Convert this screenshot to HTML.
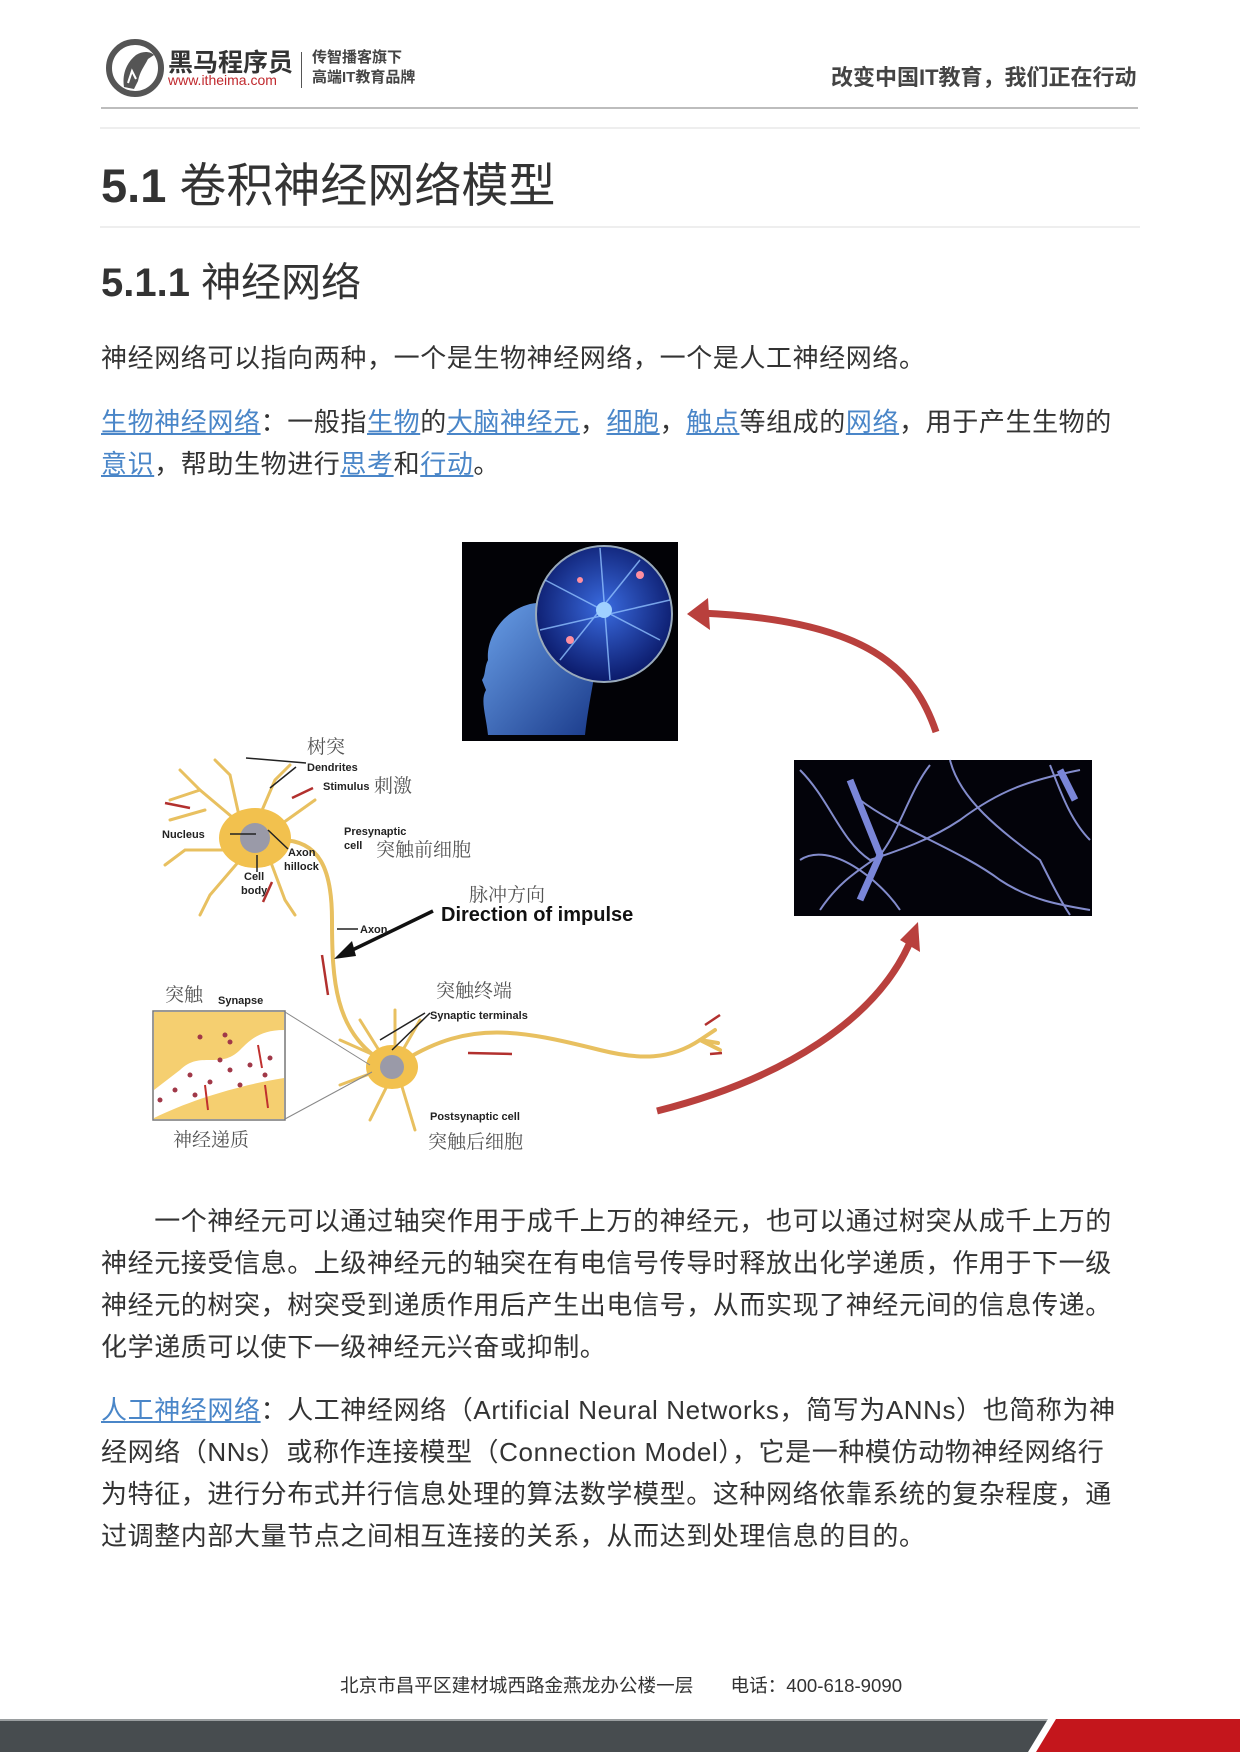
<!DOCTYPE html>
<html><head><meta charset="utf-8">
<style>
html,body{margin:0;padding:0;background:#fff;}
body{width:1240px;height:1752px;position:relative;overflow:hidden;font-family:"Liberation Sans","Noto Sans CJK SC",sans-serif;color:#333;}
.a{position:absolute;white-space:nowrap;}
.p{font-size:26px;line-height:42px;left:101px;letter-spacing:0.6px;}
a{color:#4a86c8;text-decoration:underline;}
</style></head><body>

<!-- header logo -->
<svg class="a" style="left:104px;top:37px" width="62" height="62" viewBox="0 0 62 62">
<circle cx="31" cy="31" r="26" fill="none" stroke="#555" stroke-width="6"/>
<path d="M20 50 C18 38 22 26 32 18 C38 14 46 14 50 18 L44 22 C40 30 36 34 34 44 L30 52Z" fill="#555"/>
<path d="M24 46 L28 34 L32 42" fill="none" stroke="#fff" stroke-width="2"/>
</svg>
<div class="a" style="left:168px;top:43px;font-size:25px;font-weight:bold;color:#333;">黑马程序员</div>
<div class="a" style="left:168px;top:72px;font-size:14px;color:#c0282d;">www.itheima.com</div>
<div class="a" style="left:301px;top:52px;width:1px;height:36px;background:#555;"></div>
<div class="a" style="left:312px;top:48px;font-size:15px;font-weight:bold;color:#444;line-height:20px;">传智播客旗下<br>高端IT教育品牌</div>
<div class="a" style="left:831px;top:60px;font-size:22px;font-weight:bold;color:#444;">改变中国IT教育，我们正在行动</div>
<div class="a" style="left:101px;top:107px;width:1037px;height:2px;background:#bdbdbd;"></div>
<div class="a" style="left:100px;top:127px;width:1040px;height:2px;background:#eee;"></div>

<div class="a" style="left:101px;top:157px;font-size:47px;line-height:58px;color:#333;"><b>5.1</b> 卷积神经网络模型</div>
<div class="a" style="left:100px;top:226px;width:1040px;height:2px;background:#eee;"></div>
<div class="a" style="left:101px;top:257px;font-size:40px;line-height:52px;color:#333;"><b>5.1.1</b> 神经网络</div>

<div class="a p" style="top:337px;">神经网络可以指向两种，一个是生物神经网络，一个是人工神经网络。</div>
<div class="a p" style="top:401px;"><a>生物神经网络</a>：一般指<a>生物</a>的<a>大脑神经元</a>，<a>细胞</a>，<a>触点</a>等组成的<a>网络</a>，用于产生生物的<br><a>意识</a>，帮助生物进行<a>思考</a>和<a>行动</a>。</div>

<!-- diagram -->
<svg class="a" style="left:0;top:530px" width="1240" height="640" viewBox="0 530 1240 640" font-family="Liberation Sans, Noto Sans CJK SC, sans-serif">
<defs>
<radialGradient id="bc" cx="50%" cy="45%" r="55%"><stop offset="0" stop-color="#3a6be0"/><stop offset="1" stop-color="#0b1a6a"/></radialGradient>
<linearGradient id="hd" x1="0" y1="0" x2="1" y2="1"><stop offset="0" stop-color="#6aa0e8"/><stop offset="1" stop-color="#1a3a8a"/></linearGradient>
</defs>
<rect x="462" y="542" width="216" height="199" fill="#020206"/>
<path d="M488 735 C486 715 480 700 486 690 L482 680 C486 674 484 668 488 660 C486 640 500 612 530 604 C560 598 590 612 596 640 C600 660 590 690 585 735Z" fill="url(#hd)"/>
<circle cx="604" cy="614" r="68" fill="url(#bc)" stroke="#9ab" stroke-width="2"/>
<g stroke="#8fc0ff" stroke-width="1.5" opacity="0.8">
<line x1="545" y1="580" x2="660" y2="640"/><line x1="560" y1="660" x2="640" y2="560"/><line x1="540" y1="630" x2="670" y2="600"/><line x1="600" y1="548" x2="610" y2="680"/>
</g>
<circle cx="604" cy="610" r="8" fill="#9fd0ff"/><circle cx="570" cy="640" r="4" fill="#ff8fa0"/><circle cx="640" cy="575" r="4" fill="#ff8fa0"/><circle cx="580" cy="580" r="3" fill="#ff8fa0"/>
<rect x="794" y="760" width="298" height="156" fill="#03030a"/>
<g stroke="#9aa4ee" stroke-width="2" fill="none" opacity="0.85">
<path d="M800 770 C830 800 840 840 870 860 C900 850 930 840 960 820 C1000 790 1030 780 1080 770"/>
<path d="M820 910 C840 880 860 870 880 855 C900 830 910 790 930 765"/>
<path d="M860 800 C900 830 960 850 1000 880 C1030 900 1060 905 1090 910"/>
<path d="M1050 765 C1060 790 1070 820 1090 840"/>
<path d="M950 760 C960 800 1000 830 1040 860 C1050 880 1060 900 1070 915"/>
<path d="M800 860 C830 840 880 880 900 910"/>
</g>
<g stroke="#7a86d8" stroke-width="7" fill="none"><path d="M850 780 L880 855 L860 900"/><path d="M1060 770 L1075 800"/></g>
<path d="M936 732 C915 670 870 620 700 613" fill="none" stroke="#b9403d" stroke-width="7"/>
<path d="M687 614 L708 598 L710 630Z" fill="#b9403d"/>
<path d="M657 1111 C780 1080 880 1020 913 935" fill="none" stroke="#b9403d" stroke-width="7"/>
<path d="M918 922 L920 952 L900 940Z" fill="#b9403d"/>
<g stroke="#e8c060" stroke-width="3" fill="none" stroke-linecap="round">
<path d="M257 838 L200 790 L180 770"/><path d="M200 790 L170 800"/><path d="M240 820 L230 775 L215 760"/><path d="M260 815 L275 780 L290 765"/><path d="M280 825 L315 800"/><path d="M230 850 L185 850 L165 865"/><path d="M240 860 L210 895 L200 915"/><path d="M270 860 L285 900 L295 915"/><path d="M205 810 L170 820"/>
<path d="M280 840 C320 840 332 870 332 920 C332 980 335 1030 380 1060" stroke-width="4"/>
<path d="M405 1060 C470 1020 520 1030 600 1050 C640 1060 670 1060 700 1040 L715 1030 M700 1040 L720 1050 M700 1040 L718 1043" stroke-width="4"/>
<path d="M385 1060 L360 1020 M385 1060 L340 1040 M380 1070 L340 1085 M390 1080 L370 1120 M400 1080 L415 1130 M395 1055 L395 1010 M400 1055 L420 1020"/>
</g>
<ellipse cx="255" cy="838" rx="36" ry="30" fill="#f2c14e"/>
<circle cx="255" cy="838" r="15" fill="#9a9aa8"/>
<ellipse cx="392" cy="1067" rx="26" ry="22" fill="#f2c14e"/>
<circle cx="392" cy="1067" r="12" fill="#9a9aa8"/>
<g stroke="#222" stroke-width="1.5"><line x1="230" y1="834" x2="256" y2="834"/><line x1="268" y1="830" x2="288" y2="849"/><line x1="257" y1="855" x2="257" y2="872"/><line x1="246" y1="758" x2="306" y2="763"/><line x1="296" y1="767" x2="270" y2="788"/><line x1="337" y1="929" x2="358" y2="929"/><line x1="430" y1="1013" x2="392" y2="1050"/><line x1="425" y1="1013" x2="380" y2="1040"/></g>
<line x1="433" y1="911" x2="342" y2="955" stroke="#111" stroke-width="3.5"/>
<path d="M334 959 L352 941 L356 956Z" fill="#111"/>
<g stroke="#b2302e" stroke-width="2.5" fill="none"><path d="M165 803 L190 808"/><path d="M313 788 L292 798"/><path d="M263 902 L272 882"/><path d="M322 955 L328 995"/><path d="M468 1053 L512 1054"/><path d="M705 1025 L720 1015"/><path d="M710 1054 L722 1053"/></g>
<g font-size="11" font-weight="bold" fill="#222">
<text x="307" y="771">Dendrites</text><text x="323" y="790">Stimulus</text><text x="162" y="838">Nucleus</text>
<text x="288" y="856">Axon</text><text x="284" y="870">hillock</text><text x="244" y="880">Cell</text><text x="241" y="894">body</text>
<text x="344" y="835">Presynaptic</text><text x="344" y="849">cell</text><text x="360" y="933">Axon</text>
<text x="430" y="1019">Synaptic terminals</text><text x="430" y="1120">Postsynaptic cell</text><text x="218" y="1004">Synapse</text>
</g>
<g font-size="19" fill="#555" font-family="Noto Serif CJK SC, serif">
<text x="307" y="753">树突</text><text x="374" y="792">刺激</text><text x="376" y="856">突触前细胞</text><text x="469" y="901">脉冲方向</text>
<text x="436" y="997">突触终端</text><text x="428" y="1148">突触后细胞</text><text x="165" y="1001">突触</text><text x="173" y="1146">神经递质</text>
</g>
<text x="441" y="921" font-size="20" font-weight="bold" fill="#111">Direction of impulse</text>
<rect x="153" y="1011" width="132" height="109" fill="#fff" stroke="#777" stroke-width="1.5"/>
<path d="M154 1012 L284 1012 L284 1030 C260 1030 250 1040 240 1050 C220 1070 200 1050 180 1070 L154 1090Z" fill="#f5cf70"/>
<path d="M154 1118 C190 1100 240 1085 284 1078 L284 1119 L154 1119Z" fill="#f5cf70"/>
<line x1="285" y1="1012" x2="370" y2="1065" stroke="#888"/><line x1="285" y1="1119" x2="372" y2="1072" stroke="#888"/>
<g fill="#a03848"><circle cx="200" cy="1037" r="2.5"/><circle cx="225" cy="1035" r="2.5"/><circle cx="230" cy="1042" r="2.5"/><circle cx="190" cy="1075" r="2.5"/><circle cx="210" cy="1082" r="2.5"/><circle cx="230" cy="1070" r="2.5"/><circle cx="250" cy="1065" r="2.5"/><circle cx="265" cy="1075" r="2.5"/><circle cx="175" cy="1090" r="2.5"/><circle cx="195" cy="1095" r="2.5"/><circle cx="240" cy="1085" r="2.5"/><circle cx="160" cy="1100" r="2.5"/><circle cx="220" cy="1060" r="2.5"/><circle cx="270" cy="1058" r="2.5"/></g>
<g stroke="#c0302e" stroke-width="2"><line x1="205" y1="1085" x2="208" y2="1110"/><line x1="265" y1="1085" x2="268" y2="1108"/><line x1="258" y1="1045" x2="262" y2="1068"/></g>
</svg>

<div class="a p" style="top:1200px;">　　一个神经元可以通过轴突作用于成千上万的神经元，也可以通过树突从成千上万的<br>神经元接受信息。上级神经元的轴突在有电信号传导时释放出化学递质，作用于下一级<br>神经元的树突，树突受到递质作用后产生出电信号，从而实现了神经元间的信息传递。<br>化学递质可以使下一级神经元兴奋或抑制。</div>

<div class="a p" style="top:1389px;"><a>人工神经网络</a>：人工神经网络（Artificial Neural Networks，简写为ANNs）也简称为神<br>经网络（NNs）或称作连接模型（Connection Model），它是一种模仿动物神经网络行<br>为特征，进行分布式并行信息处理的算法数学模型。这种网络依靠系统的复杂程度，通<br>过调整内部大量节点之间相互连接的关系，从而达到处理信息的目的。</div>

<div class="a" style="left:340px;top:1671px;font-size:18.6px;color:#333;">北京市昌平区建材城西路金燕龙办公楼一层　　电话：400-618-9090</div>

<svg class="a" style="left:0;top:1716px" width="1240" height="36">
<rect x="0" y="3" width="1240" height="33" fill="#474c4f"/>
<rect x="0" y="3" width="1240" height="2" fill="#9a9ea0"/>
<polygon points="1048,3 1240,3 1240,36 1028,36" fill="#fff"/>
<polygon points="1056,3 1240,3 1240,36 1036,36" fill="#c4161c"/>
</svg>
</body></html>
